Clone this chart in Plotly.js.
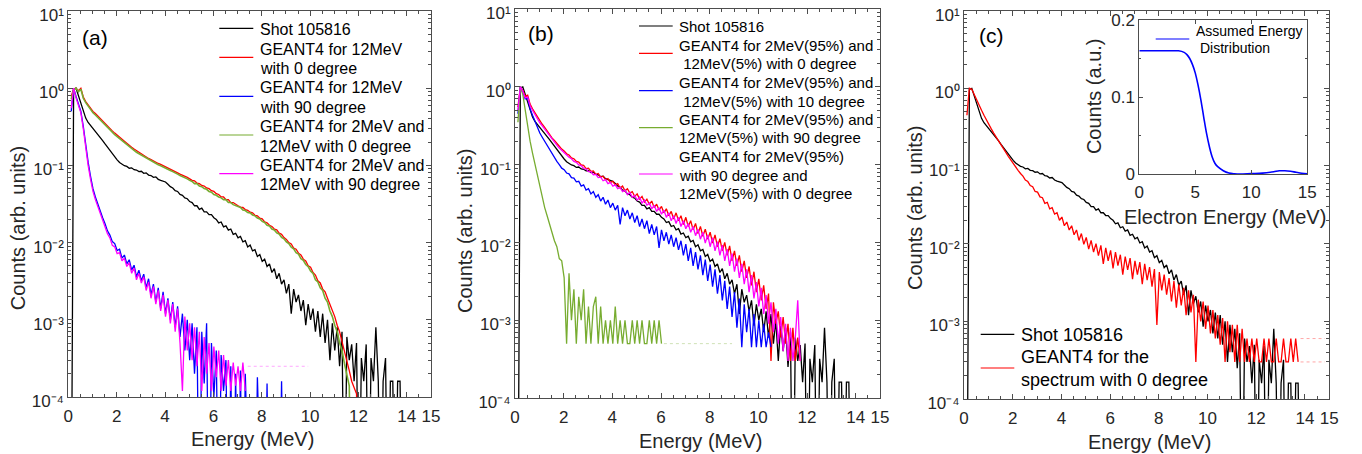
<!DOCTYPE html>
<html><head><meta charset="utf-8">
<script src="https://cdn.plot.ly/plotly-3.0.1.min.js"></script>
<style>html,body{margin:0;padding:0;background:#fff;}#chart{width:1362px;height:454px;}</style>
</head><body><div id="chart"></div>
<script>
// ---------------- DATA ----------------
// All spectra are histograms sampled on a common energy grid: E = binStart + k*binStep (MeV)
const binStart = 0.12;
const binStep = 0.1;

const xTickVals = [0, 2, 4, 6, 8, 10, 12, 14, 15];
const xTickText = ['0', '2', '4', '6', '8', '10', '12', '14', '15'];
const yTickVals = [1e-4, 1e-3, 1e-2, 1e-1, 1, 10];
const yTickText = ['10\u207B\u2074', '10\u207B\u00B3', '10\u207B\u00B2', '10\u207B\u00B9', '10\u2070', '10\u00B9'];

// Measured spectrum (shown in all three panels)
const shot105816 = [
  1e-6,0.97,1.0,0.8,0.6,0.48,0.41,0.36,0.33,0.30,
  0.28,0.255,0.23,0.21,0.19,0.172,0.157,0.142,0.128,0.118,
  0.109,0.104,0.099,0.097,0.092,0.093,0.088,0.087,0.083,0.084,
  0.079,0.080,0.075,0.074,0.070,0.071,0.066,0.064,0.063,0.061,
  0.057,0.053,0.051,0.047,0.046,0.042,0.041,0.038,0.037,0.034,
  0.033,0.030,0.030,0.027,0.028,0.025,0.025,0.023,0.023,0.021,
  0.020,0.018,0.0185,0.016,0.0165,0.0145,0.015,0.0128,0.0132,0.0115,
  0.012,0.0102,0.0106,0.0088,0.0093,0.0078,0.0081,0.0066,0.0070,0.0057,
  0.0061,0.0049,0.0053,0.0041,0.0046,0.0034,0.0040,0.0029,0.0033,0.0022,
  0.0029,0.0012,0.0025,0.0017,0.0021,0.0013,0.0018,0.00085,0.0016,0.0010,
  0.0014,0.0007,0.0013,0.0006,0.0012,0.0005,0.0010,0.0003,0.0009,0.0004,
  0.0008,0.00025,0.0007,1e-6,0.0006,0.0003,0.00048,0.00016,0.0005,1e-6,
  0.00032,0.00016,0.00048,1e-6,0.00032,0.00016,0.0008,0.00016,1e-6,0.00016,
  0.00032,1e-6,0.00016,0.00016,1e-6,0.00016,0.00016,1e-6
];

// Panel (a)
const a12MeV0deg = [
  0.78,0.98,1.0,0.93,1.0,0.77,0.67,0.6,0.55,0.5,
  0.47,0.435,0.405,0.375,0.35,0.325,0.30,0.28,0.262,0.245,
  0.23,0.218,0.205,0.193,0.18,0.172,0.163,0.155,0.148,0.141,
  0.134,0.129,0.123,0.119,0.114,0.11,0.106,0.103,0.099,0.096,
  0.093,0.089,0.086,0.083,0.080,0.077,0.075,0.072,0.070,0.067,
  0.064,0.063,0.059,0.058,0.055,0.054,0.051,0.050,0.047,0.046,
  0.043,0.042,0.039,0.039,0.036,0.036,0.033,0.033,0.031,0.030,
  0.0288,0.0285,0.0268,0.0262,0.0248,0.0243,0.0226,0.0222,0.0207,0.0203,
  0.0185,0.0181,0.0168,0.0162,0.015,0.0146,0.0133,0.0128,0.0116,0.011,
  0.01,0.0096,0.0085,0.0082,0.0073,0.0069,0.0061,0.0058,0.005,0.0048,
  0.0041,0.0038,0.0032,0.003,0.0025,0.0023,0.0019,0.0016,0.0013,0.0011,
  0.00085,0.0007,0.00052,0.0004,0.0003,0.00022,0.00016,0.00013,0.00011,1e-6
];
const a12MeV90deg = [
  0.5,1.0,0.78,0.62,0.5,0.32,0.18,0.11,0.072,0.05,
  0.039,0.031,0.026,0.021,0.0175,0.0142,0.0125,0.0103,0.0097,0.0079,
  0.0082,0.0063,0.0069,0.0053,0.0060,0.0044,0.0051,0.0036,0.0044,0.0032,
  0.0039,0.0026,0.0034,0.0021,0.0029,0.0017,0.0026,0.0014,0.0023,0.0012,
  0.0019,0.0010,0.0017,0.0008,0.0015,0.0006,0.0012,0.0004,0.0010,0.0003,
  0.0009,0.0002,0.0008,1e-6,0.0007,0.00015,0.0009,1e-6,0.0005,0.0001,
  0.0004,1e-6,0.00035,0.00012,0.0003,1e-6,0.00025,1e-6,0.0002,1e-6,
  0.00022,1e-6,0.0002,1e-6,1e-6,1e-6,1e-6,0.00018,1e-6,1e-6,
  1e-6,0.00015,1e-6,1e-6,1e-6,1e-6,1e-6,0.00016,1e-6
];
const a2and12MeV0deg = [
  0.72,0.95,1.0,0.9,0.97,0.74,0.65,0.58,0.53,0.48,
  0.45,0.42,0.39,0.36,0.335,0.31,0.29,0.27,0.25,0.235,
  0.22,0.21,0.195,0.185,0.172,0.165,0.156,0.148,0.142,0.135,
  0.128,0.124,0.118,0.114,0.109,0.106,0.102,0.099,0.095,0.092,
  0.089,0.086,0.083,0.079,0.077,0.074,0.072,0.069,0.067,0.064,
  0.062,0.058,0.058,0.054,0.053,0.050,0.049,0.046,0.045,0.042,
  0.041,0.039,0.038,0.036,0.036,0.033,0.033,0.031,0.030,0.029,
  0.0285,0.0265,0.026,0.0245,0.0243,0.0228,0.0222,0.0208,0.0202,0.0188,
  0.0182,0.0168,0.0164,0.015,0.0146,0.0134,0.0129,0.0117,0.0112,0.0102,
  0.0097,0.0087,0.0083,0.0074,0.0071,0.0062,0.0059,0.0052,0.0049,0.0043,
  0.0040,0.0033,0.0031,0.0026,0.0024,0.0019,0.0017,0.0013,0.0011,0.00085,
  0.0007,0.0005,0.0004,0.00027,0.0002,0.00014,1e-6
];
const a2and12MeV90deg = [
  0.55,1.0,0.75,0.6,0.48,0.3,0.17,0.10,0.066,0.046,
  0.036,0.029,0.024,0.019,0.016,0.013,0.0115,0.0092,0.0088,0.0072,
  0.0074,0.0058,0.0063,0.0049,0.0055,0.0040,0.0047,0.0033,0.0040,0.0030,
  0.0036,0.0024,0.0031,0.0019,0.0027,0.0016,0.0024,0.0013,0.0021,0.0011,
  0.0018,0.0009,0.0016,0.0007,0.0014,0.0005,0.00012,0.0011,0.0004,0.0009,
  0.0003,0.0008,0.00025,0.0007,0.00012,0.0006,0.0002,0.0005,0.00012,0.00045,
  0.00018,0.0004,0.00012,0.00035,0.00014,0.0003,0.00012,0.00028,0.00014,0.00025,
  0.00012,0.00028,0.00012
];
// sparse single-count tail of the 90-degree spectrum, E from 7.42 MeV
const a2and12MeV90degTail = [0.00025,0.00025,0.00025,0.00025,0.00025,0.00025,0.00025,0.00025,0.00025,0.00025,0.00025,0.00025,0.00025,0.00025,0.00025,0.00025,0.00025,0.00025,0.00025,0.00025,0.00025,0.00025,0.00025,0.00025,0.00025,0.00025];

// Panel (b)
const bMix0deg = [
  0.55,1.0,0.9,0.76,0.78,0.6,0.52,0.46,0.41,0.36,
  0.33,0.30,0.27,0.245,0.22,0.205,0.185,0.172,0.158,0.15,
  0.138,0.133,0.122,0.119,0.11,0.108,0.099,0.098,0.089,0.090,
  0.082,0.083,0.075,0.077,0.069,0.071,0.064,0.066,0.059,0.061,
  0.055,0.057,0.050,0.053,0.046,0.049,0.043,0.045,0.039,0.042,
  0.036,0.039,0.033,0.036,0.031,0.034,0.028,0.031,0.026,0.029,
  0.024,0.027,0.022,0.025,0.020,0.024,0.019,0.022,0.017,0.021,
  0.016,0.019,0.0145,0.0175,0.013,0.016,0.012,0.0148,0.011,0.0135,
  0.0098,0.0125,0.0088,0.0112,0.0078,0.010,0.0068,0.009,0.0058,0.0078,
  0.005,0.0068,0.0042,0.0058,0.0035,0.0049,0.0028,0.0042,0.0023,0.0034,
  0.0018,0.0028,0.0014,0.0022,0.0003,0.0017,0.0009,0.0013,0.0006,0.0011,
  0.0005,0.0009,0.0003,0.0008,0.0003,0.0006,0.0003
];
const bMix10deg = [
  0.45,1.0,0.86,0.7,0.72,0.52,0.43,0.36,0.3,0.255,
  0.225,0.2,0.175,0.152,0.135,0.122,0.11,0.1,0.09,0.086,
  0.078,0.076,0.068,0.067,0.060,0.061,0.053,0.055,0.047,0.049,
  0.042,0.045,0.038,0.041,0.034,0.038,0.031,0.035,0.028,0.032,
  0.026,0.030,0.017,0.028,0.022,0.026,0.020,0.024,0.018,0.022,
  0.016,0.020,0.015,0.019,0.013,0.017,0.0125,0.016,0.0085,0.0145,
  0.0105,0.0135,0.0095,0.0125,0.0088,0.0115,0.008,0.0105,0.0068,0.0095,
  0.0058,0.0085,0.005,0.0075,0.0045,0.0068,0.0038,0.006,0.0032,0.0052,
  0.0027,0.0045,0.0022,0.0038,0.0018,0.0032,0.0014,0.0027,0.0011,0.0023,
  0.0008,0.0019,0.00045,0.0016,0.0007,0.0014,0.00045,0.0012,0.00045,0.001,
  0.00045,0.0009,0.00045,0.0007,0.00045
];
const bMix90deg = [
  0.35,1.0,0.8,0.5,0.3,0.2,0.14,0.1,0.07,0.05,
  0.037,0.028,0.022,0.017,0.0135,0.0105,0.0088,0.0062,0.0058,0.0035,
  0.0005,0.004,0.001,0.0025,0.0005,0.002,0.001,0.0025,0.0005,0.0015,
  0.0005,0.0015,0.002,0.0005,0.0015,0.0005,0.001,0.0005,0.001,0.0005,
  0.0015,0.0005,0.001,0.0005,0.001,0.0005,0.0005,0.001,0.0005,0.001,
  0.0005,0.001,0.0005,0.0005,0.001,0.0005,0.001,0.0005,0.001,0.0005
];
// sparse single-count tail of the 90-degree spectrum, E from 6.12 MeV
const bMix90degTail = [0.0005,0.0005,0.0005,0.0005,0.0005,0.0005,0.0005,0.0005,0.0005,0.0005,0.0005,0.0005,0.0005,0.0005,0.0005,0.0005,0.0005,0.0005,0.0005,0.0005,0.0005,0.0005,0.0005,0.0005,0.0005,0.0005,0.0005,0.0005,0.0005];
const bMix2at90_12at0 = [
  0.5,1.0,0.88,0.72,0.74,0.57,0.5,0.44,0.39,0.345,
  0.315,0.285,0.26,0.235,0.212,0.195,0.178,0.163,0.152,0.14,
  0.134,0.124,0.119,0.11,0.107,0.099,0.097,0.089,0.088,0.081,
  0.081,0.074,0.075,0.068,0.069,0.062,0.064,0.057,0.059,0.053,
  0.055,0.049,0.051,0.045,0.047,0.041,0.044,0.038,0.040,0.035,
  0.038,0.032,0.035,0.030,0.032,0.027,0.030,0.025,0.028,0.023,
  0.026,0.021,0.024,0.019,0.022,0.0175,0.021,0.016,0.019,0.015,
  0.0175,0.0135,0.016,0.0122,0.0148,0.011,0.0135,0.0098,0.0125,0.0088,
  0.0115,0.0078,0.0102,0.0068,0.0092,0.0058,0.0082,0.005,0.0072,0.0042,
  0.0062,0.0035,0.0053,0.0029,0.0045,0.0023,0.0038,0.0019,0.0031,0.0015,
  0.0026,0.0012,0.0021,0.0009,0.0017,0.0007,0.0014,0.0005,0.0011,0.0004,
  0.0009,0.0003,0.0008,0.0003,0.0006,0.0018,0.0003
];

// Panel (c)
const cSpectrum0deg = [
  0.45,1.0,0.97,0.82,0.7,0.6,0.52,0.45,0.39,0.33,
  0.30,0.265,0.235,0.21,0.185,0.165,0.148,0.133,0.12,0.107,
  0.097,0.088,0.080,0.074,0.066,0.063,0.056,0.054,0.047,0.046,
  0.040,0.039,0.033,0.034,0.028,0.029,0.024,0.025,0.020,0.022,
  0.017,0.019,0.015,0.017,0.013,0.015,0.011,0.0135,0.0098,0.012,
  0.0085,0.011,0.0078,0.010,0.0070,0.0095,0.0055,0.0088,0.0060,0.0082,
  0.0048,0.0078,0.0052,0.0072,0.0040,0.0068,0.0046,0.0065,0.0035,0.0060,
  0.0040,0.0058,0.0030,0.0055,0.0034,0.0050,0.0028,0.0047,0.0009,0.0043,
  0.0025,0.0040,0.0022,0.0036,0.0018,0.0033,0.0015,0.0030,0.0016,0.0027,
  0.0012,0.0025,0.0013,0.0022,0.0003,0.0019,0.0010,0.0018,0.0008,0.0016,
  0.0007,0.0014,0.0006,0.0012,0.0005,0.0011,0.0003,0.0010,0.0004,0.0009,
  0.0003,0.0009,0.0003,0.0008,0.0003,0.0006,0.0003,0.0006,0.0003,0.0006,
  0.0003,0.0003,0.0006,0.0003,0.0006,0.0003,0.0003,0.0006,0.0003,0.0003,
  0.0006,0.0003,0.0003,0.0006,0.0003,0.0006,0.0003
];
// sparse single/double-count tails of the simulated spectrum, E from 13.82 MeV
const cSpectrum0degTail1 = [0.0003,0.0003,0.0003,0.0003,0.0003,0.0003,0.0003,0.0003,0.0003,0.0003,0.0003];
const cSpectrum0degTail2 = [0.0006,0.0006,0.0006,0.0006,0.0006,0.0006,0.0006,0.0006,0.0006,0.0006,0.0006];

// Inset: assumed electron energy distribution
const insetEnergy = [0,1,2,3,3.5,4,4.25,4.5,4.75,5,5.25,5.5,5.75,6,6.25,6.5,6.75,7,7.5,8,8.5,9,10,11,12,12.5,13,13.5,14,14.5,15];
const insetCounts = [0.16,0.16,0.16,0.16,0.16,0.158,0.155,0.15,0.142,0.131,0.115,0.096,0.074,0.053,0.036,0.0225,0.014,0.0095,0.0043,0.0013,0.0003,0,0.0006,0.0012,0.003,0.0042,0.0042,0.0035,0.0022,0.001,0.0003];

const legendLinesA = ['Shot 105816', 'GEANT4 for 12MeV', 'with 0 degree', 'GEANT4 for 12MeV', 'with 90 degree', 'GEANT4 for 2MeV and', '12MeV with 0 degree', 'GEANT4 for 2MeV and', '12MeV with 90 degree'];
const legendLinesB = ['Shot 105816', 'GEANT4 for 2MeV(95%) and', ' 12MeV(5%) with 0 degree', 'GEANT4 for 2MeV(95%) and', ' 12MeV(5%) with 10 degree', 'GEANT4 for 2MeV(95%) and', '12MeV(5%) with 90 degree', 'GEANT4 for 2MeV(95%)', 'with 90 degree and', '12MeV(5%) with 0 degree'];
const legendLinesC = ['Shot 105816', 'GEANT4 for the', 'spectrum with 0 degree'];
const legendLinesInset = ['Assumed Energy', 'Distribution'];

// ---------------- STYLE / LAYOUT ----------------
const W = 1362, H = 454;
const FONT = 'Liberation Sans, Arial, Helvetica, sans-serif';
const AX = '#4d4d4d', TX = '#262626';
const C = {black: '#000000', red: '#ff0000', blue: '#0000ff', green: '#77ac30', magenta: '#ff00ff'};
const px = x => x / W, py = y => 1 - y / H;

const panels = {
  a: {L: 68.3, R: 431, T: 11, B: 397},
  b: {L: 515, R: 880, T: 9, B: 398},
  c: {L: 964, R: 1329.3, T: 10.6, B: 399},
  inset: {L: 1139.3, R: 1307.3, T: 20, B: 174}
};

const minorLog = [];
for (let d = -4; d <= 0; d++) for (let k = 2; k <= 9; k++) minorLog.push(k * Math.pow(10, d));

function xAxis(p, anchor) {
  return {domain: [px(p.L), px(p.R)], range: [0, 15], anchor: anchor,
    tickmode: 'array', tickvals: xTickVals, ticktext: xTickText,
    ticks: 'inside', ticklen: 5, tickwidth: 1, tickcolor: AX, ticklabelstandoff: 4, ticklabeloverflow: 'allow',
    showline: true, linecolor: AX, linewidth: 1, mirror: 'allticks',
    showgrid: false, zeroline: false, fixedrange: true,
    tickfont: {family: FONT, size: 17, color: TX},
    minor: {tickmode: 'linear', tick0: 0, dtick: 0.5, ticks: 'inside', ticklen: 3, tickcolor: AX, tickwidth: 1, showgrid: false}};
}
function yAxis(p, anchor) {
  return {domain: [py(p.B), py(p.T)], type: 'log', range: [-4, 1], anchor: anchor,
    tickmode: 'array', tickvals: yTickVals, ticktext: yTickText,
    ticks: 'inside', ticklen: 5, tickwidth: 1, tickcolor: AX, ticklabeloverflow: 'allow', ticklabelshift: 4,
    showline: true, linecolor: AX, linewidth: 1, mirror: 'allticks',
    showgrid: false, zeroline: false, fixedrange: true,
    tickfont: {family: FONT, size: 17, color: TX},
    minor: {tickmode: 'array', tickvals: minorLog, ticks: 'inside', ticklen: 3, tickcolor: AX, tickwidth: 1, showgrid: false}};
}

function spec(y, color, xa, ya, w) {
  return {type: 'scatter', mode: 'lines', x0: binStart, dx: binStep, y: y,
    line: {color: color, width: w || 1.3}, xaxis: xa, yaxis: ya, showlegend: false, hoverinfo: 'skip'};
}
function faint(y, start, color, xa, ya) {
  return {type: 'scatter', mode: 'lines', x0: start, dx: binStep, y: y, opacity: 0.35,
    line: {color: color, width: 1, dash: 'dot'}, xaxis: xa, yaxis: ya, showlegend: false, hoverinfo: 'skip'};
}

const traces = [
  spec(shot105816, C.black, 'x', 'y'),
  spec(a12MeV0deg, C.red, 'x', 'y'),
  spec(a12MeV90deg, C.blue, 'x', 'y'),
  spec(a2and12MeV0deg, C.green, 'x', 'y', 1.6),
  spec(a2and12MeV90deg, C.magenta, 'x', 'y'),
  faint(a2and12MeV90degTail, 7.42, C.magenta, 'x', 'y'),

  spec(shot105816, C.black, 'x2', 'y2'),
  spec(bMix0deg, C.red, 'x2', 'y2'),
  spec(bMix10deg, C.blue, 'x2', 'y2'),
  spec(bMix90deg, C.green, 'x2', 'y2'),
  faint(bMix90degTail, 6.12, C.green, 'x2', 'y2'),
  spec(bMix2at90_12at0, C.magenta, 'x2', 'y2'),

  spec(shot105816, C.black, 'x3', 'y3'),
  spec(cSpectrum0deg, C.red, 'x3', 'y3'),
  faint(cSpectrum0degTail1, 13.82, C.red, 'x3', 'y3'),
  faint(cSpectrum0degTail2, 13.82, C.red, 'x3', 'y3'),

  {type: 'scatter', mode: 'lines', x: insetEnergy, y: insetCounts, line: {color: C.blue, width: 1.6, shape: 'spline'},
   xaxis: 'x4', yaxis: 'y4', showlegend: false, hoverinfo: 'skip'}
];

const ann = [], shapes = [];
function text(t, x, y, size, extra) {
  ann.push(Object.assign({text: t, x: px(x), y: py(y), xref: 'paper', yref: 'paper', showarrow: false,
    xanchor: 'left', yanchor: 'middle', font: {family: FONT, size: size, color: '#000'}}, extra || {}));
}
function sample(x1, x2, y, color) {
  shapes.push({type: 'line', xref: 'paper', yref: 'paper', x0: px(x1), x1: px(x2), y0: py(y), y1: py(y), line: {color: color, width: 1.2}});
}

// Panel labels
text('(a)', 94.5, 37.7, 21, {xanchor: 'center'});
text('(b)', 541, 33.3, 21, {xanchor: 'center'});
text('(c)', 991, 35, 21, {xanchor: 'center'});

// Axis titles
const tfont = {family: FONT, size: 20, color: TX};
text('Energy (MeV)', 252, 439, 20, {xanchor: 'center', font: tfont});
text('Energy (MeV)', 700, 440.7, 20, {xanchor: 'center', font: tfont});
text('Energy (MeV)', 1149, 441.7, 20, {xanchor: 'center', font: tfont});
text('Counts (arb. units)', 18.3, 228, 20, {xanchor: 'center', textangle: -90, font: tfont});
text('Counts (arb. units)', 465, 231, 20, {xanchor: 'center', textangle: -90, font: tfont});
text('Counts (arb. units)', 915, 208, 20, {xanchor: 'center', textangle: -90, font: tfont});
text('Electron Energy (MeV)', 1225, 216.7, 20, {xanchor: 'center', font: tfont});
text('Counts (a.u.)', 1093.3, 95.8, 20, {xanchor: 'center', textangle: -90, font: tfont});

// Legend (a)
const legAy = [29.3, 49, 68.3, 88, 107.3, 126.7, 146, 165.7, 185];
legendLinesA.forEach((t, i) => text(t, 257.5, legAy[i], 16));
[[28.3, C.black], [57.3, C.red], [96.3, C.blue], [135, C.green], [173.7, C.magenta]].forEach(s => sample(219.3, 253.3, s[0], s[1]));
// Legend (b)
const legBy = [26.7, 45.7, 64, 82.7, 101, 119.3, 138, 156.7, 175.3, 193.7];
legendLinesB.forEach((t, i) => text(t, 676.7, legBy[i], 15));
[[26, C.black], [53.3, C.red], [90.7, C.blue], [127.7, C.green], [174, C.magenta]].forEach(s => sample(639, 672.7, s[0], s[1]));
// Legend (c)
const legCy = [335, 357.3, 380];
legendLinesC.forEach((t, i) => text(t, 1019, legCy[i], 18));
[[334.3, C.black], [368, C.red]].forEach(s => sample(980.7, 1014.3, s[0], s[1]));
// Inset legend
text(legendLinesInset[0], 1194, 31, 14);
text(legendLinesInset[1], 1197.7, 48.3, 14);
sample(1155.7, 1189.3, 39, C.blue);

const layout = {
  width: W, height: H, margin: {l: 0, r: 0, t: 0, b: 0},
  paper_bgcolor: '#ffffff', plot_bgcolor: '#ffffff', showlegend: false,
  font: {family: FONT, color: TX},
  xaxis: xAxis(panels.a, 'y'), yaxis: yAxis(panels.a, 'x'),
  xaxis2: xAxis(panels.b, 'y2'), yaxis2: yAxis(panels.b, 'x2'),
  xaxis3: xAxis(panels.c, 'y3'), yaxis3: yAxis(panels.c, 'x3'),
  xaxis4: {domain: [px(panels.inset.L), px(panels.inset.R)], range: [0, 15], anchor: 'y4',
    tickmode: 'array', tickvals: [0, 5, 10, 15], ticks: 'inside', ticklen: 4, tickcolor: AX, ticklabelstandoff: 3,
    showline: true, linecolor: AX, linewidth: 1, mirror: 'allticks', showgrid: false, zeroline: false,
    tickfont: {family: FONT, size: 17, color: TX}, fixedrange: true, ticklabeloverflow: 'allow'},
  yaxis4: {domain: [py(panels.inset.B), py(panels.inset.T)], range: [0, 0.2], anchor: 'x4',
    tickmode: 'array', tickvals: [0, 0.1, 0.2], ticktext: ['0', '0.1', '0.2'], ticks: 'inside', ticklen: 4, tickcolor: AX,
    showline: true, linecolor: AX, linewidth: 1, mirror: 'allticks', showgrid: false, zeroline: false,
    tickfont: {family: FONT, size: 17, color: TX}, fixedrange: true, ticklabeloverflow: 'allow',
    minor: {tickmode: 'linear', tick0: 0, dtick: 0.05, ticks: 'inside', ticklen: 2, tickcolor: AX}},
  annotations: ann, shapes: shapes
};

Plotly.newPlot('chart', traces, layout, {staticPlot: true, displayModeBar: false});
</script></body></html>
